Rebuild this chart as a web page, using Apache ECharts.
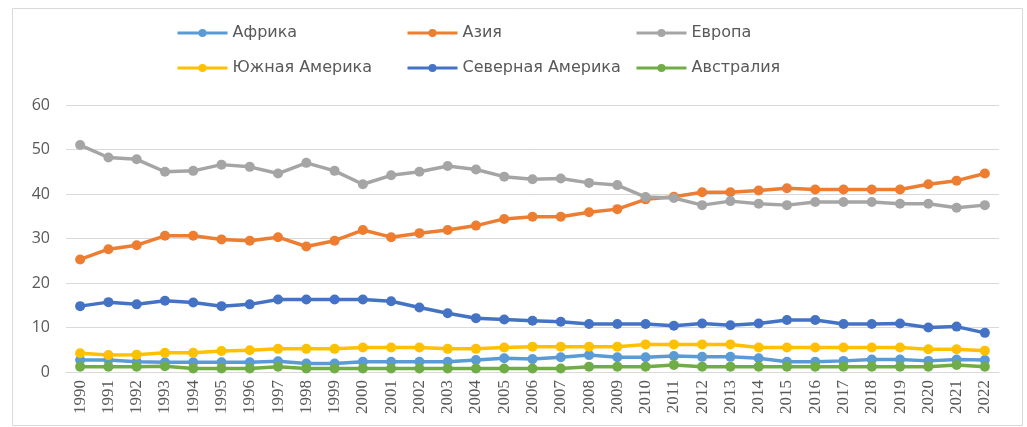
<!DOCTYPE html>
<html>
<head>
<meta charset="utf-8">
<script src="https://cdn.jsdelivr.net/npm/echarts@6/dist/echarts.min.js"></script>
<style>html,body{margin:0;padding:0;background:#fff}#c{width:1027px;height:427px}</style>
</head>
<body>
<div id="c"></div>
<script>
const years = ['1990','1991','1992','1993','1994','1995','1996','1997','1998','1999','2000','2001','2002','2003','2004','2005','2006','2007','2008','2009','2010','2011','2012','2013','2014','2015','2016','2017','2018','2019','2020','2021','2022'];
const seriesNames = ['Африка','Азия','Европа','Южная Америка','Северная Америка','Австралия'];
const africa = [2.7,2.7,2.3,2.2,2.2,2.2,2.2,2.4,1.9,1.9,2.3,2.3,2.3,2.3,2.7,3.1,2.9,3.3,3.8,3.3,3.3,3.6,3.4,3.4,3.1,2.3,2.3,2.5,2.8,2.8,2.5,2.8,2.7];
const asia = [25.3,27.6,28.5,30.6,30.6,29.8,29.5,30.3,28.2,29.5,31.9,30.3,31.2,31.9,32.9,34.4,34.9,34.9,35.9,36.6,38.8,39.4,40.4,40.4,40.8,41.3,41.0,41.0,41.0,41.0,42.2,43.0,44.6];
const europe = [51.0,48.2,47.8,45.0,45.2,46.6,46.1,44.6,47.0,45.2,42.2,44.2,45.0,46.3,45.5,43.9,43.3,43.5,42.5,42.0,39.3,39.1,37.5,38.4,37.8,37.5,38.2,38.2,38.2,37.8,37.8,36.9,37.5];
const southAmerica = [4.2,3.8,3.9,4.3,4.3,4.7,4.9,5.2,5.2,5.2,5.5,5.5,5.5,5.2,5.2,5.5,5.7,5.7,5.7,5.7,6.2,6.2,6.2,6.2,5.5,5.5,5.5,5.5,5.5,5.5,5.1,5.1,4.8];
const northAmerica = [14.8,15.7,15.2,16.0,15.6,14.8,15.2,16.3,16.3,16.3,16.3,15.9,14.5,13.2,12.1,11.8,11.5,11.3,10.8,10.8,10.8,10.4,10.9,10.5,10.9,11.7,11.7,10.8,10.8,10.9,10.0,10.2,8.8];
const australia = [1.2,1.2,1.2,1.3,0.8,0.8,0.8,1.2,0.8,0.8,0.8,0.8,0.8,0.8,0.8,0.8,0.8,0.8,1.2,1.2,1.2,1.6,1.2,1.2,1.2,1.2,1.2,1.2,1.2,1.2,1.2,1.6,1.2];
const yTicks = [0,10,20,30,40,50,60];

const colors = ['#5B9BD5','#ED7D31','#A5A5A5','#FFC000','#4472C4','#70AD47'];
const values = [africa, asia, europe, southAmerica, northAmerica, australia];
const legendPos = [[176,25],[406,25],[635,25],[176,60],[406,60],[635,60]];

const chart = echarts.init(document.getElementById('c'));
chart.setOption({
  animation: false,
  color: colors,
  graphic: [{type:'rect', shape:{x:12.5,y:8.5,width:1010,height:417}, style:{fill:'none', stroke:'#d9d9d9', lineWidth:1}, z:-1}],
  legend: seriesNames.map((n,i)=>({
    data:[n], left: legendPos[i][0], top: legendPos[i][1], itemWidth: 50, itemHeight: 10, padding:0,
    lineStyle:{width:3},
    textStyle:{fontFamily:'DejaVu Sans', fontSize:16, color:'#595959'}
  })),
  grid: {left: 66, right: 28, top: 105, bottom: 55},
  xAxis: {
    type:'category', data: years, boundaryGap: true,
    axisLine:{lineStyle:{color:'#d9d9d9'}}, axisTick:{show:false},
    axisLabel:{rotate:90, interval:0, fontFamily:'Liberation Serif', fontSize:17, color:'#595959', margin:8}
  },
  yAxis: {
    type:'value', min: yTicks[0], max: yTicks[yTicks.length-1], interval: 10,
    axisLine:{show:false}, axisTick:{show:false},
    splitLine:{lineStyle:{color:'#d9d9d9'}},
    axisLabel:{fontFamily:'Open Sans', fontSize:16, color:'#595959', margin:16}
  },
  series: seriesNames.map((n,i)=>({
    name:n, type:'line', data: values[i], symbol:'circle', symbolSize:10,
    lineStyle:{width:3.5}, itemStyle:{color:colors[i]}
  }))
});
</script>
</body>
</html>
